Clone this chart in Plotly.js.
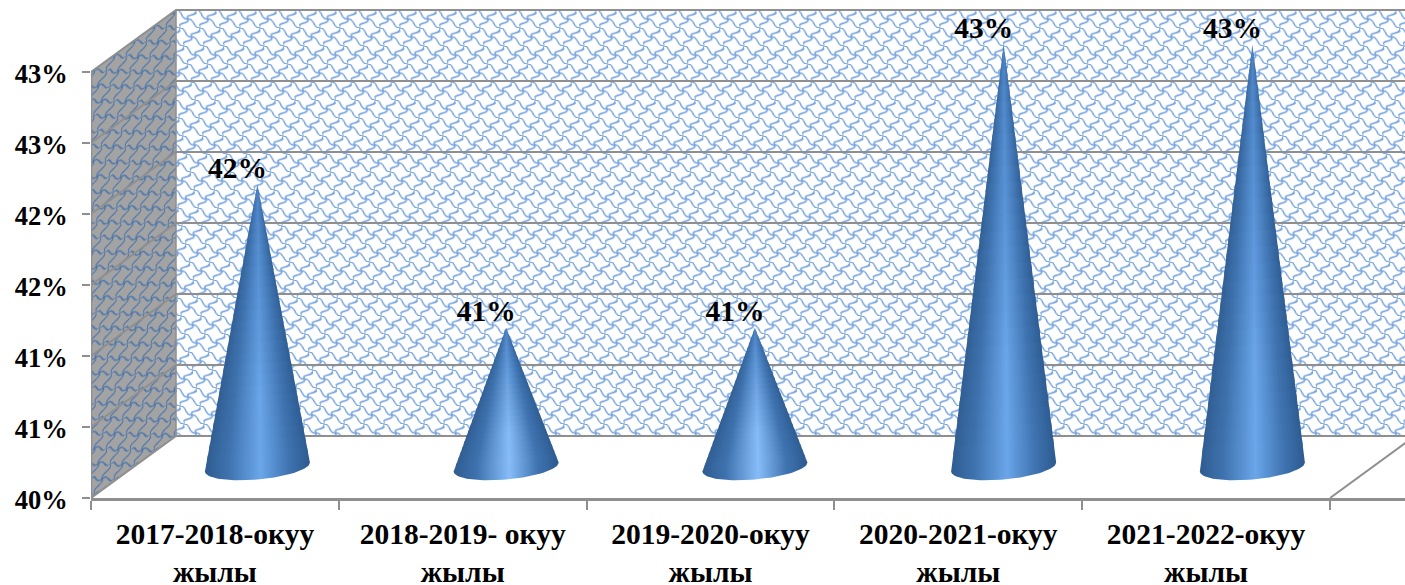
<!DOCTYPE html>
<html><head><meta charset="utf-8">
<script src="https://cdn.plot.ly/plotly-3.0.1.min.js"></script>
<style>html,body{margin:0;padding:0;background:#fff}</style></head>
<body><div id="chart" style="width:1405px;height:585px"></div>
<script>
const categories = ["2017-2018-окуу<br>жылы","2018-2019- окуу<br>жылы","2019-2020-окуу<br>жылы","2020-2021-окуу<br>жылы","2021-2022-окуу<br>жылы"];
const values = [41.99, 40.98, 40.98, 42.975, 42.975];
const yTickVals = [40,40.5,41,41.5,42,42.5,43];
const yTickText = ["40%","41%","41%","42%","42%","43%","43%"];

const W=1405,H=585,L=91,B=87;
const pxX=247.8, pxY=142;          // pixels per category / per unit value
const coneStep=248.75/pxX;         // cones sit slightly further apart at mid depth
const depthXpx=85, depthYpx=62;
const dX=depthXpx/pxX, dY=depthYpx/pxY;
const xMin=-0.5, xMax=xMin+(W-L)/pxX, yMin=40, yMax=yMin+(H-B)/pxY;
const nCat=categories.length, xEnd=xMin+nCat;
const GRID='#8f8f8f';
const font={family:'"Liberation Serif","Times New Roman",serif',weight:700,color:'#000'};

function tile(stroke,w){
  return `<path d="M0 0 C7 -1 2 10 10 9 M20 0 C21 7 8 3 10 9 M0 18 C-1 11 11 15 10 9 M20 18 C13 19 17 8 10 9" fill="none" stroke="${stroke}" stroke-width="${w}"/>`;
}
function svgUri(s){return 'data:image/svg+xml;charset=utf-8,'+encodeURIComponent(s);}
const backW=W-L-depthXpx, backH=6*71;
const backSvg=`<svg xmlns="http://www.w3.org/2000/svg" width="${backW}" height="${backH}"><defs><pattern id="p" width="20" height="18" patternUnits="userSpaceOnUse" patternTransform="skewX(12)">${tile('#6f9edb',1.5)}</pattern></defs><rect width="100%" height="100%" fill="#fff"/><rect width="100%" height="100%" fill="url(#p)"/></svg>`;
const sideH=backH+depthYpx;
const sideSvg=`<svg xmlns="http://www.w3.org/2000/svg" width="${depthXpx}" height="${sideH}"><defs><pattern id="q" width="20" height="18" patternUnits="userSpaceOnUse" patternTransform="skewY(-36) skewX(12)">${tile('#4a74ab',1.3)}</pattern></defs><polygon points="0,${depthYpx} ${depthXpx},0 ${depthXpx},${backH} 0,${sideH}" fill="#a3a3a3"/><polygon points="0,${depthYpx} ${depthXpx},0 ${depthXpx},${backH} 0,${sideH}" fill="url(#q)"/></svg>`;

const traces=[];
function line(xs,ys,w){traces.push({type:'scatter',mode:'lines',x:xs,y:ys,line:{color:GRID,width:w||2},hoverinfo:'skip',showlegend:false});}
yTickVals.forEach(v=>{
  line([xMin,xMin+dX,xEnd+dX],[v,v+dY,v+dY],2);
});
line([xMin+dX,xMin+dX],[yMin+dY,43+dY],1.5);
line([xMin,xMin],[yMin,43],2.5);
line([xEnd,xEnd+dX],[yMin,yMin+dY],2);

// cones: stacked slices, each with its own left-to-right shading, over a tilted base ellipse
const coneA=52.5, coneB=12.5, coneTilt=4.5, slices=26;
function hex(a,b,f){
  const p=s=>[1,3,5].map(i=>parseInt(s.substr(i,2),16));
  const A=p(a),B=p(b);
  return 'rgb('+A.map((c,i)=>Math.round(c+(B[i]-c)*f)).join(',')+')';
}
function cone(i,v,light){
  const cx=i*coneStep+dX/2, cy=yMin+dY/2, topY=v+dY/2;
  const rX=coneA/pxX, tY=coneTilt/pxY;
  for(let s=0;s<slices;s++){
    const f0=Math.max(0,(s-0.5)/slices), f1=(s+1)/slices;
    const at=(f,side)=>[cx+side*f*rX, topY+f*(cy+side*tY-topY)];
    const a=at(f0,-1), b=at(f0,1), c=at(f1,1), d=at(f1,-1);
    const xs=[a[0],b[0],c[0]], ys=[a[1],b[1],c[1]];
    if(s===slices-1){
      for(let k=0;k<=48;k++){
        const t=Math.PI*k/48;
        xs.push(cx+rX*Math.cos(t));
        ys.push(cy+tY*Math.cos(t)-coneB*Math.sin(t)/pxY);
      }
    } else { xs.push(d[0]); ys.push(d[1]); }
    xs.push(a[0]); ys.push(a[1]);
    const mid=hex('#4a82c4',light,Math.min(1,f1*1.25));
    traces.push({type:'scatter',mode:'lines',x:xs,y:ys,fill:'toself',line:{width:0,color:'rgba(0,0,0,0)'},
      fillgradient:{type:'horizontal',colorscale:[[0,'#2f5c90'],[0.22,'#3e72ae'],[0.53,mid],[0.8,'#3f73b0'],[1,'#2c5a8f']]},
      hoverinfo:'skip',showlegend:false});
  }
}
values.forEach((v,i)=>cone(i,v,v<41.5?'#86bdf8':'#6aa6ea'));

// value labels
traces.push({type:'scatter',mode:'text',
  x:values.map((v,i)=>i*coneStep+dX/2-20/pxX),
  y:values.map(v=>v+dY/2-1/pxY),
  text:values.map(v=>Math.round(v)+'%'),
  textposition:'top center',
  textfont:Object.assign({},font,{size:29.5}),
  hoverinfo:'skip',showlegend:false});

const layout={
  width:W,height:H,showlegend:false,
  margin:{l:L,r:0,t:0,b:B,pad:0},
  paper_bgcolor:'#fff',plot_bgcolor:'#fff',
  xaxis:{showline:true,linecolor:GRID,linewidth:2.5,zeroline:false,showgrid:false,range:[xMin,xMax],tickmode:'array',
    tickvals:categories.map((c,i)=>i),ticktext:categories,tickangle:0,ticks:'',
    ticklabelstandoff:8,tickfont:Object.assign({},font,{size:29.5}),
    minor:{tickmode:'array',tickvals:Array.from({length:nCat+1},(_,i)=>xMin+i),ticks:'outside',ticklen:9,tickwidth:2,tickcolor:GRID}},
  yaxis:{showline:false,zeroline:false,showgrid:false,range:[yMin,yMax],tickmode:'array',tickvals:yTickVals,ticktext:yTickText,
    ticks:'outside',ticklen:8,tickwidth:2,tickcolor:GRID,ticklabelstandoff:9,ticklabelshift:2,tickfont:Object.assign({},font,{size:26.5})},
  images:[
    {source:svgUri(backSvg),xref:'x',yref:'y',x:xMin+dX,y:43+dY,sizex:backW/pxX,sizey:backH/pxY,xanchor:'left',yanchor:'top',sizing:'stretch',layer:'below'},
    {source:svgUri(sideSvg),xref:'x',yref:'y',x:xMin,y:43+dY,sizex:dX,sizey:sideH/pxY,xanchor:'left',yanchor:'top',sizing:'stretch',layer:'below'}
  ]
};
Plotly.newPlot('chart',traces,layout,{displayModeBar:false,staticPlot:true});
</script></body></html>
